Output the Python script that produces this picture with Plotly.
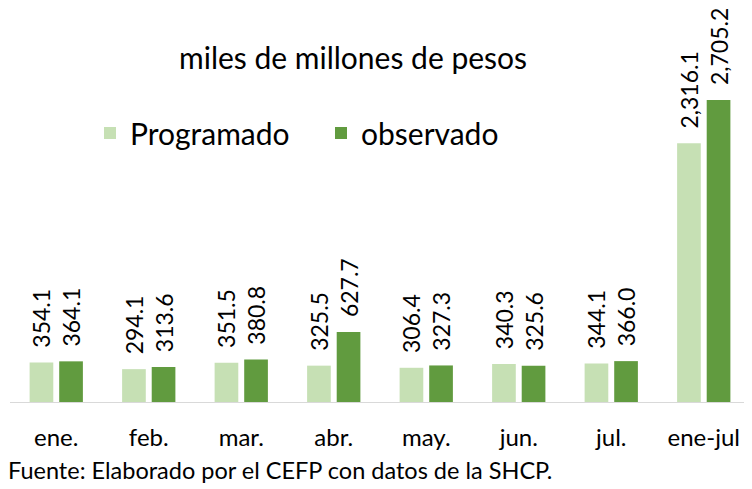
import plotly.graph_objects as go

categories = ["ene.", "feb.", "mar.", "abr.", "may.", "jun.", "jul.", "ene-jul"]
programado = [354.1, 294.1, 351.5, 325.5, 306.4, 340.3, 344.1, 2316.1]
observado = [364.1, 313.6, 380.8, 627.7, 327.3, 325.6, 366.0, 2705.2]

W, H = 752, 489
OFF = 8  # page body margin offset
ML, MR, MT, MB = 10 - OFF, 10, 10 - OFF, 95
PW, PH = W - ML - MR, H - MT - MB
FONT = "Lato"


def px_x(px):
    return (px - OFF - ML) / PW


def px_y(py):
    return (H - MB - (py - OFF)) / PH


fig = go.Figure()
fig.add_trace(go.Bar(
    x=categories, y=programado, name="Programado",
    marker=dict(color="#c6e0b4", line=dict(width=0)),
    texttemplate="\u00a0\u00a0%{y:,.1f}", textposition="outside", textangle=-90,
    constraintext="none",
    textfont=dict(family=FONT, size=23, color="#000000"), cliponaxis=False,
))
fig.add_trace(go.Bar(
    x=categories, y=observado, name="observado",
    marker=dict(color="#619b3f", line=dict(width=0)),
    texttemplate="\u00a0\u00a0%{y:,.1f}", textposition="outside", textangle=-90,
    constraintext="none",
    textfont=dict(family=FONT, size=23, color="#000000"), cliponaxis=False,
))

fig.update_layout(
    width=W, height=H,
    margin=dict(l=ML, r=MR, t=MT, b=MB, autoexpand=False),
    paper_bgcolor="white", plot_bgcolor="white",
    barmode="group", bargap=0.36, bargroupgap=0.2,
    font=dict(family=FONT, color="#000000"),
    showlegend=True,
    legend=dict(
        orientation="h", xref="container", yref="container",
        x=(90 - OFF) / W, y=1 - (133 - OFF) / H, xanchor="left", yanchor="middle",
        font=dict(family=FONT, size=30, color="#000000"),
        entrywidth=186, entrywidthmode="pixels",
        bgcolor="rgba(0,0,0,0)",
    ),
)
fig.update_xaxes(
    showline=True, linecolor="#d9d9d9", linewidth=1,
    ticks="", tickfont=dict(family=FONT, size=24, color="#000000"),
    ticklabelstandoff=14, showgrid=False, zeroline=False, automargin=False,
)
fig.update_yaxes(
    range=[0, 3510], visible=False, showgrid=False, zeroline=False,
    automargin=False,
)

fig.add_annotation(
    text="miles de millones de pesos", xref="paper", yref="paper",
    x=px_x(353), y=px_y(57), xanchor="center", yanchor="middle",
    showarrow=False, font=dict(family=FONT, size=30, color="#000000"),
)
fig.add_annotation(
    text="Fuente: Elaborado por el CEFP con datos de la SHCP.",
    xref="paper", yref="paper",
    x=px_x(6), y=px_y(470), xanchor="left", yanchor="middle",
    showarrow=False, font=dict(family=FONT, size=23.5, color="#000000"),
)

fig.write_html("out.html")
